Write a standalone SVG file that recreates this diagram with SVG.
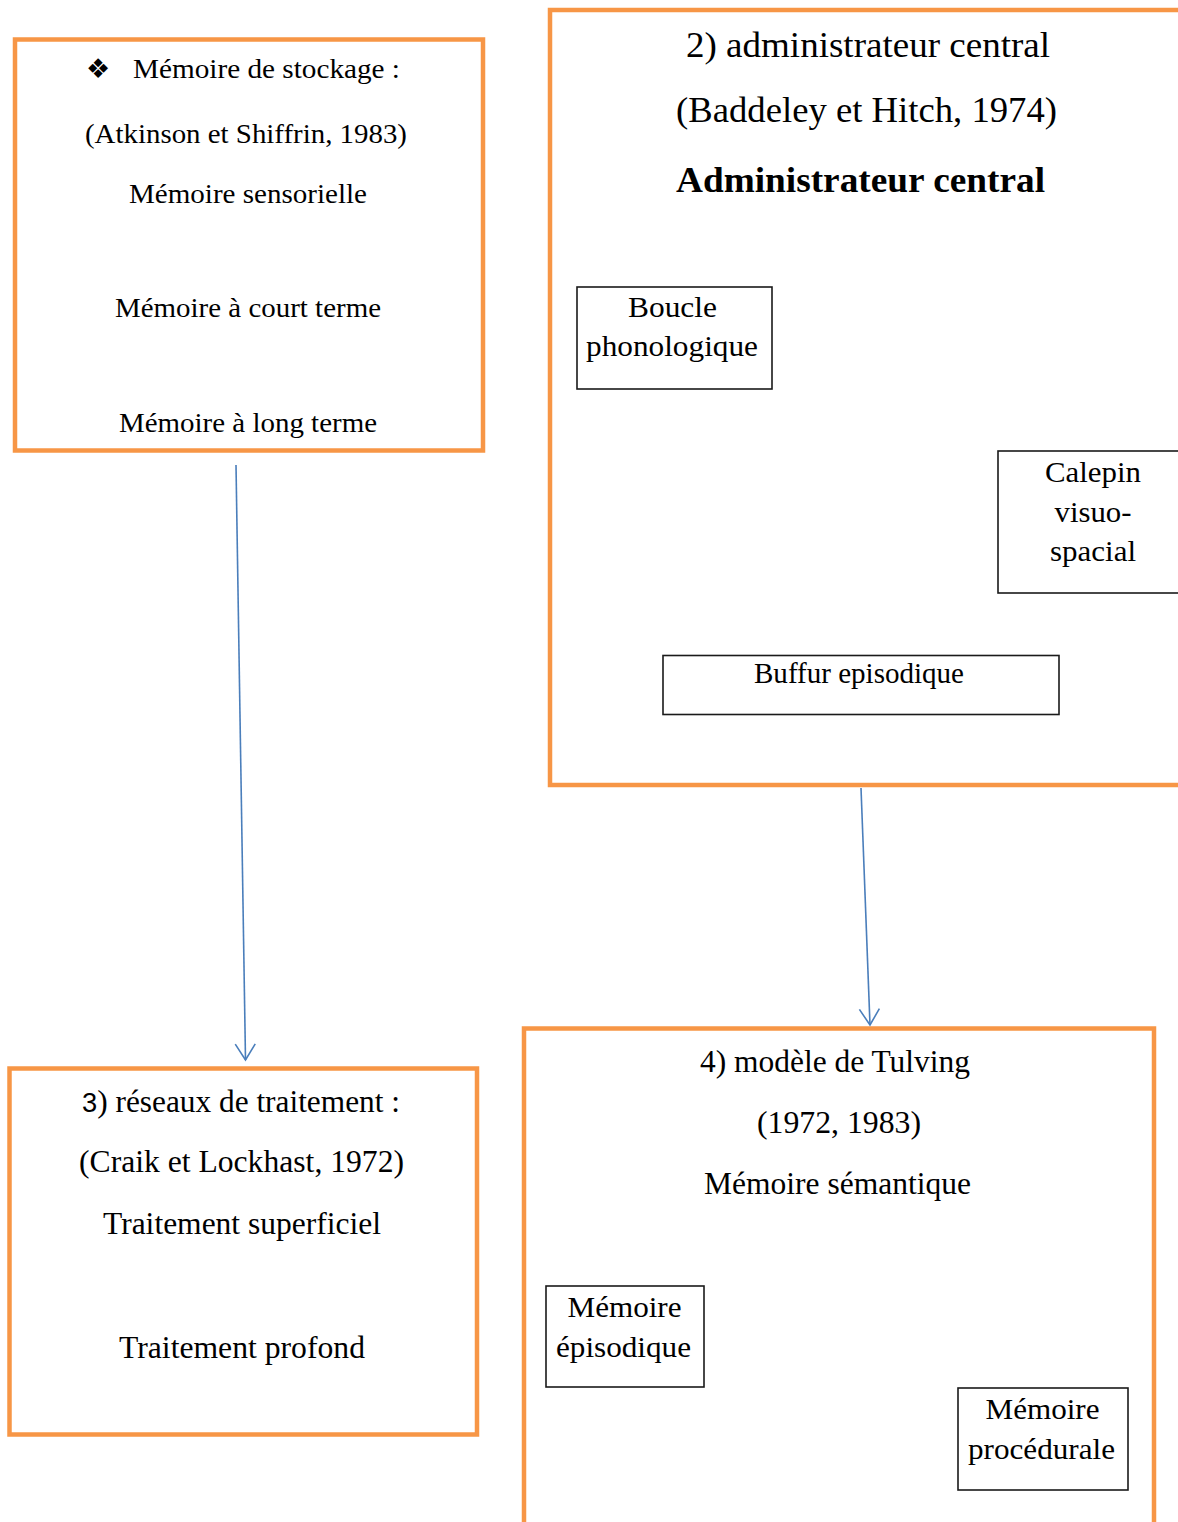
<svg xmlns="http://www.w3.org/2000/svg" width="1178" height="1522" viewBox="0 0 1178 1522">
<style>
.frame{fill:#fff;stroke:#F79646;stroke-width:4.5}
.inner{fill:#fff;stroke:#1a1a1a;stroke-width:1.6}
.t{font-family:"Liberation Serif","Times New Roman",serif;fill:#000;text-anchor:middle}
.conn{stroke:#4A7EBB;stroke-width:1.6;fill:none}
</style>
<defs>
<marker id="arr" viewBox="-2 -12 20 24" refX="16" refY="0" markerWidth="20" markerHeight="24" markerUnits="userSpaceOnUse" orient="auto">
<path d="M0,-10 L16,0 L0,10" fill="none" stroke="#4A7EBB" stroke-width="1.6"/>
</marker>
</defs>
<rect width="1178" height="1522" fill="#fff"/>

<g id="node-stockage">
<rect class="frame" x="15" y="39.5" width="468" height="411"/>
<text x="98" y="78" font-family="DejaVu Sans, sans-serif" font-size="27" text-anchor="middle">❖</text>
<text class="t" x="266.5" y="78" font-size="28" textLength="267" lengthAdjust="spacingAndGlyphs">Mémoire de stockage :</text>
<text class="t" x="246" y="143" font-size="28" textLength="322" lengthAdjust="spacingAndGlyphs">(Atkinson et Shiffrin, 1983)</text>
<text class="t" x="248" y="202.5" font-size="28" textLength="238" lengthAdjust="spacingAndGlyphs">Mémoire sensorielle</text>
<text class="t" x="248" y="316.5" font-size="28" textLength="266" lengthAdjust="spacingAndGlyphs">Mémoire à court terme</text>
<text class="t" x="248" y="432" font-size="28" textLength="258" lengthAdjust="spacingAndGlyphs">Mémoire à long terme</text>
</g>

<g id="node-administrateur">
<rect class="frame" x="550" y="10" width="700" height="775"/>
<text class="t" x="868" y="57" font-size="36" textLength="364" lengthAdjust="spacingAndGlyphs">2) administrateur central</text>
<text class="t" x="866.5" y="122" font-size="36" textLength="381" lengthAdjust="spacingAndGlyphs">(Baddeley et Hitch, 1974)</text>
<text class="t" x="860.5" y="192" font-size="36" font-weight="bold" textLength="369" lengthAdjust="spacingAndGlyphs">Administrateur central</text>
</g>

<g id="node-boucle">
<rect class="inner" x="577" y="287" width="195" height="102"/>
<text class="t" x="672.5" y="317" font-size="30" textLength="89" lengthAdjust="spacingAndGlyphs">Boucle</text>
<text class="t" x="672" y="356" font-size="30" textLength="172" lengthAdjust="spacingAndGlyphs">phonologique</text>
</g>

<g id="node-calepin">
<rect class="inner" x="998" y="451" width="220" height="142" stroke-width="2"/>
<text class="t" x="1093" y="482" font-size="30" textLength="96" lengthAdjust="spacingAndGlyphs">Calepin</text>
<text class="t" x="1093" y="522" font-size="30" textLength="77" lengthAdjust="spacingAndGlyphs">visuo-</text>
<text class="t" x="1093" y="561" font-size="30" textLength="86" lengthAdjust="spacingAndGlyphs">spacial</text>
</g>

<g id="node-buffur">
<rect class="inner" x="663" y="655.5" width="396" height="59"/>
<text class="t" x="859" y="683" font-size="29" textLength="210" lengthAdjust="spacingAndGlyphs">Buffur episodique</text>
</g>

<g id="node-reseaux">
<rect class="frame" x="9.5" y="1068.5" width="467.5" height="366"/>
<text class="t" x="241" y="1111.5" font-size="31" textLength="318" lengthAdjust="spacingAndGlyphs"><tspan font-family="Liberation Sans, Arial, sans-serif" font-size="27">3</tspan>) réseaux de traitement :</text>
<text class="t" x="241.5" y="1172" font-size="31" textLength="325" lengthAdjust="spacingAndGlyphs">(Craik et Lockhast, 1972)</text>
<text class="t" x="242" y="1234" font-size="31" textLength="278" lengthAdjust="spacingAndGlyphs">Traitement superficiel</text>
<text class="t" x="242" y="1357.5" font-size="31" textLength="246" lengthAdjust="spacingAndGlyphs">Traitement profond</text>
</g>

<g id="node-tulving">
<rect class="frame" x="524" y="1028.5" width="630" height="600"/>
<text class="t" x="835" y="1071.5" font-size="31" textLength="270" lengthAdjust="spacingAndGlyphs">4) modèle de Tulving</text>
<text class="t" x="839" y="1132.5" font-size="31" textLength="164" lengthAdjust="spacingAndGlyphs">(1972, 1983)</text>
<text class="t" x="837.5" y="1193.5" font-size="31" textLength="267" lengthAdjust="spacingAndGlyphs">Mémoire sémantique</text>
</g>

<g id="node-episodique">
<rect class="inner" x="546" y="1286" width="158" height="101"/>
<text class="t" x="624.5" y="1317" font-size="30" textLength="114" lengthAdjust="spacingAndGlyphs">Mémoire</text>
<text class="t" x="623.5" y="1357" font-size="30" textLength="135" lengthAdjust="spacingAndGlyphs">épisodique</text>
</g>

<g id="node-procedurale">
<rect class="inner" x="958" y="1388" width="170" height="102"/>
<text class="t" x="1042.5" y="1419" font-size="30" textLength="114" lengthAdjust="spacingAndGlyphs">Mémoire</text>
<text class="t" x="1041.5" y="1459" font-size="30" textLength="147" lengthAdjust="spacingAndGlyphs">procédurale</text>
</g>

<g id="connectors">
<line class="conn" x1="236" y1="465" x2="245.5" y2="1060" marker-end="url(#arr)"/>
<line class="conn" x1="861" y1="788" x2="870" y2="1025" marker-end="url(#arr)"/>
</g>
</svg>
